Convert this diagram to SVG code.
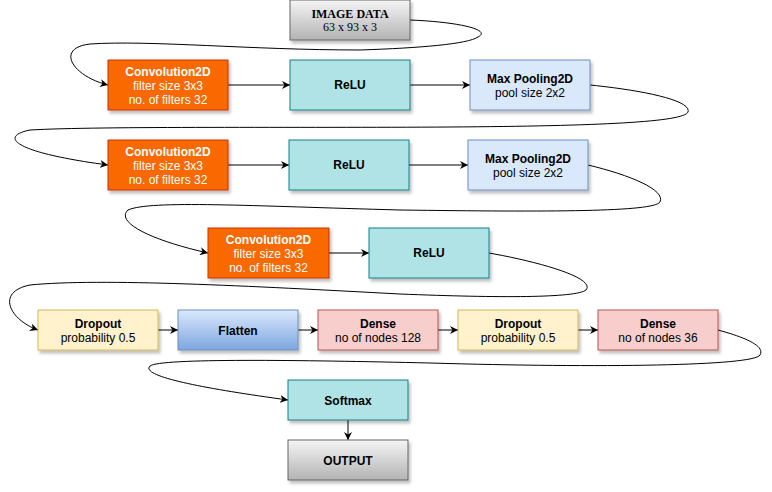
<svg xmlns="http://www.w3.org/2000/svg" width="772" height="492" viewBox="0 0 772 492">
<defs>
<linearGradient id="gGray" x1="0" y1="0" x2="0" y2="1"><stop offset="0" stop-color="#f5f5f5"/><stop offset="1" stop-color="#b3b3b3"/></linearGradient>
<linearGradient id="gBlue" x1="0" y1="0" x2="0" y2="1"><stop offset="0" stop-color="#dae8fc"/><stop offset="1" stop-color="#7ea6e0"/></linearGradient>
<filter id="sh" x="-10%" y="-10%" width="130%" height="140%"><feDropShadow dx="2" dy="3" stdDeviation="1.5" flood-color="#000" flood-opacity="0.25"/></filter>
<marker id="arr" viewBox="0 0 10 10" refX="10" refY="5" markerWidth="8" markerHeight="8" markerUnits="userSpaceOnUse" orient="auto"><path d="M0,0 L10,5 L0,10 L3,5 Z" fill="#000"/></marker>
</defs>
<style>
.box{stroke-width:1;filter:url(#sh)}
.gray{fill:url(#gGray);stroke:#666666}
.conv{fill:#fa6800;stroke:#c73500}
.relu{fill:#b0e3e6;stroke:#0e8088}
.pool{fill:#dae8fc;stroke:#6c8ebf}
.drop{fill:#fff2cc;stroke:#d6b656}
.flat{fill:url(#gBlue);stroke:#6c8ebf}
.dense{fill:#f8cecc;stroke:#b85450}
text{font-family:"Liberation Sans",Arial,sans-serif;font-size:12px;text-anchor:middle;fill:#000}
.b{font-weight:bold}
.w{fill:#fff}
.serif{font-family:"Liberation Serif","Times New Roman",serif}
.e{fill:none;stroke:#000;stroke-width:1;marker-end:url(#arr)}
</style>
<g id="connectors">
<path class="e" d="M410,20 C460,22 492,30 478,37 C468,44 420,48 360,50 C250,50 150,40 90,44 C55,48 72,76 108,85"/>
<path class="e" d="M228,85 L290,85"/>
<path class="e" d="M410,85 L470,85"/>
<path class="e" d="M590,85 C640,90 692,100 688,112 C684,122 600,126 450,127 C300,128 100,126 30,130 C0,136 10,152 108,165"/>
<path class="e" d="M228,165 L289,165"/>
<path class="e" d="M409,165 L468,165"/>
<path class="e" d="M588,165 C630,175 666,190 660,202 C654,212 550,212 400,210 C250,206 150,200 128,210 C115,222 150,240 208,253"/>
<path class="e" d="M329,253 L369,253"/>
<path class="e" d="M489,253 C540,262 596,278 586,290 C576,298 500,298 400,294 C250,286 100,278 30,285 C-5,292 10,320 38,330"/>
<path class="e" d="M158,330 L178,330"/>
<path class="e" d="M298,330 L318,330"/>
<path class="e" d="M438,330 L458,330"/>
<path class="e" d="M578,330 L598,330"/>
<path class="e" d="M718,330 C740,336 766,345 760,355 C754,366 600,368 430,363 C300,360 160,358 150,366 C140,376 200,388 288,400"/>
<path class="e" d="M348,420 L348,440"/>
</g>
<g id="image-data"><rect class="box gray" x="290" y="0" width="120" height="40"/><text class="serif b" x="350" y="18">IMAGE DATA</text><text class="serif" x="350" y="31">63 x 93 x 3</text></g>
<g id="conv1"><rect class="box conv" x="108" y="60" width="120" height="50"/><text class="b w" x="168" y="76">Convolution2D</text><text class="w" x="168" y="90">filter size 3x3</text><text class="w" x="168" y="104">no. of filters 32</text></g>
<g id="relu1"><rect class="box relu" x="290" y="60" width="120" height="50"/><text class="b" x="350" y="89">ReLU</text></g>
<g id="pool1"><rect class="box pool" x="470" y="60" width="120" height="50"/><text class="b" x="530" y="83">Max Pooling2D</text><text x="530" y="97">pool size 2x2</text></g>
<g id="conv2"><rect class="box conv" x="108" y="140" width="120" height="50"/><text class="b w" x="168" y="156">Convolution2D</text><text class="w" x="168" y="170">filter size 3x3</text><text class="w" x="168" y="184">no. of filters 32</text></g>
<g id="relu2"><rect class="box relu" x="289" y="140" width="120" height="50"/><text class="b" x="349" y="169">ReLU</text></g>
<g id="pool2"><rect class="box pool" x="468" y="140" width="120" height="50"/><text class="b" x="528" y="163">Max Pooling2D</text><text x="528" y="177">pool size 2x2</text></g>
<g id="conv3"><rect class="box conv" x="208" y="228" width="121" height="50"/><text class="b w" x="268.5" y="244">Convolution2D</text><text class="w" x="268.5" y="258">filter size 3x3</text><text class="w" x="268.5" y="272">no. of filters 32</text></g>
<g id="relu3"><rect class="box relu" x="369" y="228" width="120" height="50"/><text class="b" x="429" y="257">ReLU</text></g>
<g id="dropout1"><rect class="box drop" x="38" y="310" width="120" height="40"/><text class="b" x="98" y="328">Dropout</text><text x="98" y="342">probability 0.5</text></g>
<g id="flatten"><rect class="box flat" x="178" y="310" width="120" height="40"/><text class="b" x="238" y="335">Flatten</text></g>
<g id="dense1"><rect class="box dense" x="318" y="310" width="120" height="40"/><text class="b" x="378" y="328">Dense</text><text x="378" y="342">no of nodes 128</text></g>
<g id="dropout2"><rect class="box drop" x="458" y="310" width="120" height="40"/><text class="b" x="518" y="328">Dropout</text><text x="518" y="342">probability 0.5</text></g>
<g id="dense2"><rect class="box dense" x="598" y="310" width="120" height="40"/><text class="b" x="658" y="328">Dense</text><text x="658" y="342">no of nodes 36</text></g>
<g id="softmax"><rect class="box relu" x="288" y="380" width="120" height="40"/><text class="b" x="348" y="405">Softmax</text></g>
<g id="output"><rect class="box gray" x="288" y="440" width="120" height="40"/><text class="b" x="348" y="465">OUTPUT</text></g>
</svg>
